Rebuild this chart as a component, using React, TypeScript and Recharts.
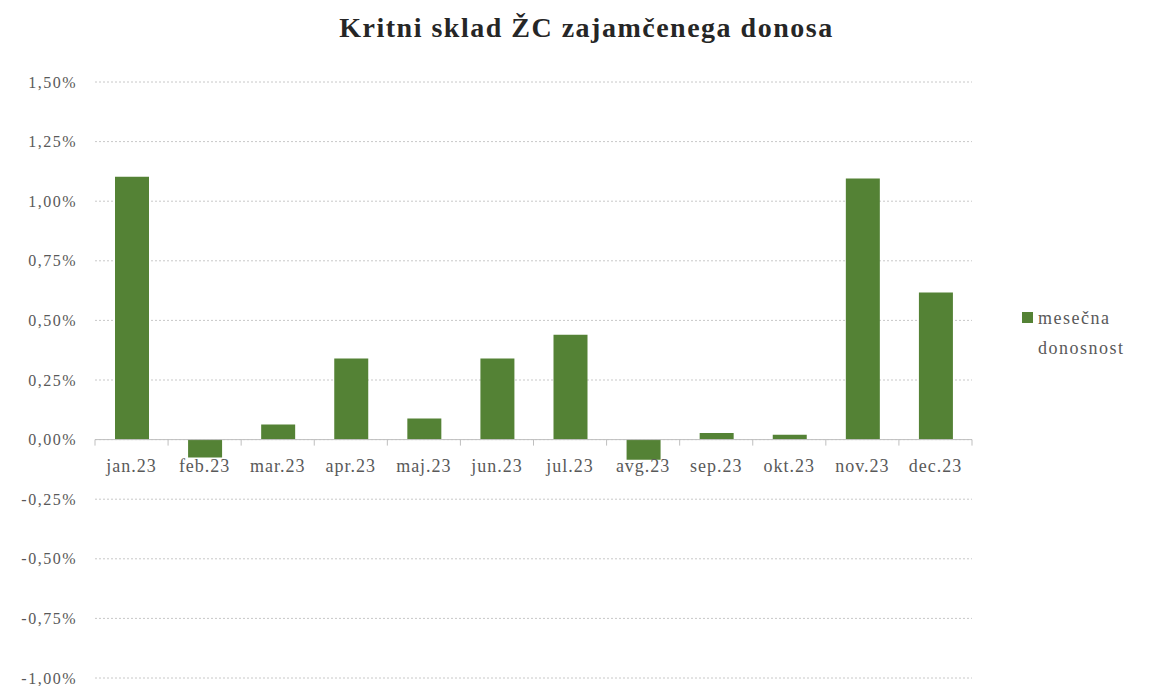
import React from "react";
import { BarChart, Bar, XAxis, YAxis, CartesianGrid, ReferenceLine, Legend } from "recharts";

const months = ["jan.23", "feb.23", "mar.23", "apr.23", "maj.23", "jun.23", "jul.23", "avg.23", "sep.23", "okt.23", "nov.23", "dec.23"];
const returns = [1.103, -0.075, 0.063, 0.34, 0.088, 0.34, 0.44, -0.084, 0.028, 0.02, 1.095, 0.617];
const yTicks = [-1, -0.75, -0.5, -0.25, 0, 0.25, 0.5, 0.75, 1, 1.25, 1.5];
const seriesName = "mesečna donosnost";

const data = months.map((m, i) => ({ month: m, value: returns[i] }));

const W = 1153;
const H = 686;
const M_TOP = 82;
const X_AXIS_H = 2;
const M_BOTTOM = 6;
const M_LEFT = 0;
const M_RIGHT = 181;
const Y_AXIS_W = 95;
const Y_MIN = -1;
const Y_MAX = 1.5;
const PLOT_H = H - M_TOP - M_BOTTOM - X_AXIS_H;
const PLOT_W = W - M_LEFT - M_RIGHT - Y_AXIS_W;
const BAND = PLOT_W / months.length;
const ZERO_Y = M_TOP + (PLOT_H * Y_MAX) / (Y_MAX - Y_MIN);
const FONT = "'Liberation Serif', 'DejaVu Serif', serif";

const fmt = (v: number) => v.toFixed(2).replace(".", ",") + "%";

const XTick = (props: any) => {
  const { x, payload, index } = props;
  const left = x - BAND / 2;
  return (
    <g>
      <line x1={left} y1={ZERO_Y} x2={left} y2={ZERO_Y + 6} stroke="#bfbfbf" />
      {index === months.length - 1 && (
        <line x1={x + BAND / 2} y1={ZERO_Y} x2={x + BAND / 2} y2={ZERO_Y + 6} stroke="#bfbfbf" />
      )}
      <text x={x} y={ZERO_Y + 32} textAnchor="middle" fill="#595959" fontSize={18} letterSpacing={1} fontFamily={FONT}>
        {payload.value}
      </text>
    </g>
  );
};

const LegendContent = () => (
  <div style={{ display: "flex", alignItems: "flex-start", fontFamily: FONT, fontSize: 18, letterSpacing: 1.5, color: "#595959", lineHeight: "30px", textAlign: "left" }}>
    <div style={{ width: 11, height: 11, background: "#548235", marginTop: 9, marginRight: 5, flex: "none" }} />
    <div style={{ width: 115 }}>{seriesName}</div>
  </div>
);

export default function App() {
  return (
    <div style={{ position: "absolute", left: 0, top: 0, width: W, height: H, background: "#fff" }}>
      <div style={{ position: "absolute", left: 10, top: 12, width: W, textAlign: "center", fontFamily: FONT, fontWeight: "bold", fontSize: 28, letterSpacing: 1.5, color: "#262626" }}>
        Kritni sklad ŽC zajamčenega donosa
      </div>
      <BarChart width={W} height={H} data={data} margin={{ top: M_TOP, right: M_RIGHT, bottom: M_BOTTOM, left: M_LEFT }}>
        <CartesianGrid horizontal vertical={false} stroke="#c8c8c8" strokeDasharray="2 2" />
        <XAxis dataKey="month" axisLine={false} tickLine={false} tick={<XTick />} interval={0} height={X_AXIS_H} />
        <YAxis
          domain={[Y_MIN, Y_MAX]}
          ticks={yTicks}
          tickFormatter={fmt}
          axisLine={false}
          tickLine={false}
          tickSize={0}
          tickMargin={18}
          width={Y_AXIS_W}
          interval={0}
          tick={{ fill: "#595959", fontSize: 16, letterSpacing: 1.5, fontFamily: FONT }}
        />
        <ReferenceLine y={0} stroke="#bfbfbf" />
        <Legend
          layout="horizontal"
          verticalAlign="middle"
          align="center"
          content={<LegendContent />}
          wrapperStyle={{ left: 1022, top: 303, width: 131 }}
        />
        <Bar dataKey="value" name={seriesName} fill="#548235" barSize={34} isAnimationActive={false} />
      </BarChart>
    </div>
  );
}
